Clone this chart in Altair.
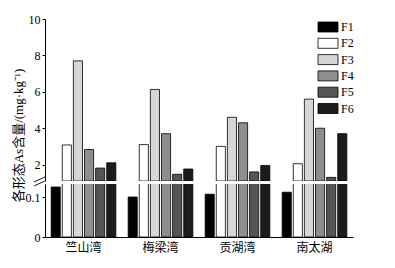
import altair as alt
import pandas as pd

sites = ["竺山湾", "梅梁湾", "贡湖湾", "南太湖"]
forms = ["F1", "F2", "F3", "F4", "F5", "F6"]
F1 = [0.125, 0.100, 0.107, 0.112]
F2 = [3.08, 3.10, 3.00, 2.05]
F3 = [7.70, 6.13, 4.60, 5.60]
F4 = [2.83, 3.70, 4.30, 4.00]
F5 = [1.81, 1.47, 1.60, 1.30]
F6 = [2.10, 1.76, 1.95, 3.70]
colors = ["#000000", "#ffffff", "#d6d6d6", "#8e8e8e", "#555555", "#1c1c1c"]

rows = []
for f, vals in zip(forms, [F1, F2, F3, F4, F5, F6]):
    for s, v in zip(sites, vals):
        rows.append({"site": s, "form": f, "value": v})
df = pd.DataFrame(rows)

FONT = "Liberation Serif, Noto Sans CJK SC"
UP_MIN, UP_MAX = 1.1, 10
LO_MAX = 0.1325

color = alt.Color(
    "form:N",
    scale=alt.Scale(domain=forms, range=colors),
    legend=alt.Legend(
        title=None, orient="none", legendX=277, legendY=2,
        symbolType="M-2,-1H2V1H-2Z", symbolSize=100,
        symbolStrokeColor="black", symbolStrokeWidth=0.8, symbolOpacity=1,
        labelFont=FONT, labelFontSize=12, labelColor="black",
        labelOffset=7, rowPadding=2.3,
    ),
)
xoff = alt.XOffset("form:N", sort=forms, scale=alt.Scale(paddingInner=0.18))
xscale = alt.Scale(paddingInner=0.16, paddingOuter=0.08)

upper = alt.Chart(df).transform_filter(f"datum.value > {UP_MIN}").mark_bar(
    stroke="black", strokeWidth=0.8, clip=True
).encode(
    x=alt.X("site:N", sort=sites, scale=xscale, axis=None),
    xOffset=xoff,
    y=alt.Y(
        "value:Q",
        scale=alt.Scale(domain=[UP_MIN, UP_MAX], nice=False, zero=False),
        axis=alt.Axis(values=[2, 4, 6, 8, 10], title="各形态As含量/(mg·kg⁻¹)",
                      titleY=116, titleFont=FONT, titleFontSize=13,
                      titleFontWeight="normal", titlePadding=3),
    ),
    y2=alt.datum(UP_MIN),
    color=color,
).properties(width=308, height=162)

lower_bars = alt.Chart(df).mark_bar(stroke="black", strokeWidth=0.8, clip=True).encode(
    x=alt.X("site:N", sort=sites, scale=xscale,
            axis=alt.Axis(title=None, ticks=False, labelAngle=0, labelFont=FONT,
                          labelFontSize=12, labelPadding=5)),
    xOffset=xoff,
    y=alt.Y(
        "value:Q",
        scale=alt.Scale(domain=[0, LO_MAX], nice=False),
        axis=alt.Axis(values=[0, 0.1], format=".1~f", title=None),
    ),
    color=color,
)

brk = pd.DataFrame({"k": [0]})
break1 = alt.Chart(brk).mark_rule(color="black", strokeWidth=0.9).encode(
    x=alt.value(-11), x2=alt.value(0), y=alt.value(-2), y2=alt.value(-7)
)
break2 = alt.Chart(brk).mark_rule(color="black", strokeWidth=0.9).encode(
    x=alt.value(-11), x2=alt.value(0), y=alt.value(2), y2=alt.value(-3)
)

lower = alt.layer(lower_bars, break1, break2).properties(width=308, height=53)

chart = alt.vconcat(upper, lower, spacing=3, bounds="flush").resolve_scale(color="shared").properties(
    padding={"left": 4, "top": 5, "right": 5, "bottom": 5}
).configure_view(stroke=None).configure_axis(
    domainColor="black", tickColor="black", labelColor="black", titleColor="black",
    labelFont=FONT, labelFontSize=12, grid=False, tickSize=3, domainWidth=1,
    labelPadding=2,
)

chart.save("out.html", embed_options={"renderer": "svg", "actions": False})
